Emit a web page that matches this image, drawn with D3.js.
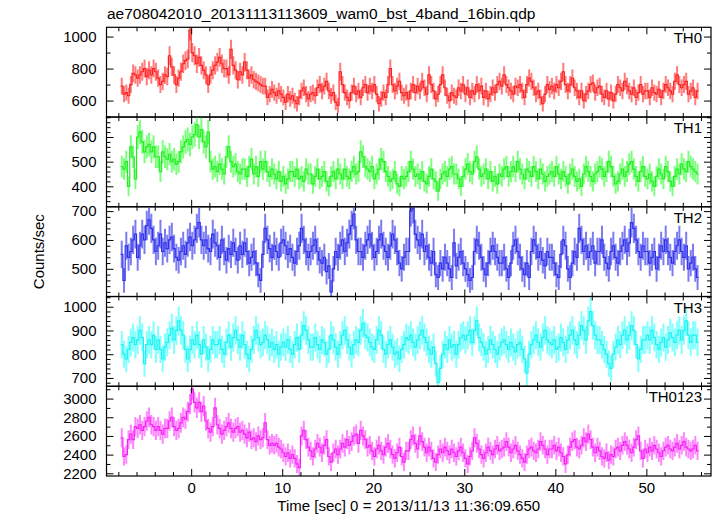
<!DOCTYPE html>
<html><head><meta charset="utf-8">
<script src="https://cdn.jsdelivr.net/npm/d3@7"></script>
<style>body{margin:0;background:#fff}svg{display:block}text{font-family:"Liberation Sans",Arial,Helvetica,sans-serif;fill:#000}</style>
</head><body><svg id="c" width="717" height="516"></svg>
<script>
const binWidth = 0.25;
const tStart = -7.75;
const title = "ae708042010_20131113113609_wam0_bst_4band_16bin.qdp";
const xTitle = "Time [sec] 0 = 2013/11/13 11:36:09.650";
const yTitle = "Counts/sec";
const bandNames = ["TH0", "TH1", "TH2", "TH3", "TH0123"];
const xTicks = [0, 10, 20, 30, 40, 50];

const th0 = [
690,640,650,630, 700,770,760,740, 760,780,800,750, 790,760,800,780, 740,700,720,760, 750,
880,810,760,700, 740,780,830,850, 860,1040,900,880, 830,870,820,790, 760,700,760,790, 820,
840,870,830,800, 800,760,920,820, 790,730,780,760, 840,790,740,760, 730,720,710,700, 690,
690,620,640,670, 650,630,660,640, 620,590,640,610, 630,600,580,620, 660,680,640,610, 640,
650,630,680,700, 660,690,720,660, 630,650,590,570, 780,700,650,620, 600,650,690,640, 660,
620,680,700,650, 690,660,700,640, 580,610,650,620, 700,800,700,660, 690,720,650,630, 650,
610,660,700,650, 690,660,720,680, 640,760,700,660, 610,640,700,760, 680,630,600,650, 630,
620,680,660,700, 640,680,620,660, 640,700,660,690, 620,660,610,640, 680,650,700,720, 690,
760,700,680,660, 640,690,680,700, 660,620,700,740, 720,680,640,660, 620,580,640,700, 670,
690,660,700,680, 720,780,700,660, 700,740,680,660, 620,660,600,640, 660,700,710,650, 680,
690,640,620,660, 610,650,600,640, 700,680,660,720, 690,660,640,680, 620,650,700,640, 660,
660,620,680,650, 640,670,620,660, 700,680,660,640, 720,760,700,680, 700,720,640,660, 680,
620,660];

const th1 = [
480,470,500,400, 560,520,430,600, 620,580,540,560, 570,540,560,520, 520,460,540,520, 510,
530,500,510,490, 500,540,560,580, 590,570,600,610, 650,600,630,580, 560,620,500,470, 480,
460,490,470,450, 520,560,500,480, 490,460,450,470, 470,440,480,510, 450,480,440,500, 470,
500,460,440,470, 450,430,460,420, 440,410,430,460, 460,440,470,430, 440,420,470,450, 450,
410,440,470,430, 440,460,420,400, 440,460,430,470, 450,430,470,440, 430,460,480,450, 460,
540,520,480,470, 460,480,430,450, 470,510,500,460, 440,420,430,460, 410,400,440,430, 440,
460,500,470,440, 450,430,460,420, 410,440,470,430, 420,380,430,450, 460,440,470,480, 450,
450,430,400,440, 470,490,460,450, 500,520,470,440, 450,470,430,460, 420,440,410,450, 440,
470,480,440,460, 480,460,500,470, 450,430,470,460, 440,480,460,430, 470,450,420,440, 450,
460,440,480,450, 430,460,440,410, 450,470,440,420, 430,400,450,480, 460,440,420,450, 460,
480,470,440,460, 500,480,440,410, 420,450,470,440, 460,490,500,470, 440,420,460,480, 440,
430,450,420,400, 440,470,450,430, 480,460,420,400, 440,470,450,490, 470,460,500,480, 470,
460,450];

const th2 = [
550,460,580,540, 560,600,620,540, 580,620,600,650, 670,640,600,560, 580,620,560,590, 570,
600,610,570,540, 530,560,580,550, 590,610,580,600, 640,660,600,580, 600,570,560,620, 590,
580,540,600,560, 530,570,550,590, 560,530,580,550, 590,560,520,540, 560,520,480,460, 550,
640,600,570,540, 580,560,540,590, 600,580,550,570, 540,520,560,580, 640,600,560,540, 560,
580,600,560,530, 520,540,490,510, 420,500,560,540, 580,600,560,590, 620,650,690,600, 560,
560,540,580,600, 620,580,540,560, 600,620,580,560, 540,580,620,600, 560,520,500,540, 560,
560,700,710,620, 600,580,620,560, 580,540,520,560, 480,470,520,500, 540,520,500,470, 590,
510,540,560,520, 500,480,460,470, 560,600,580,540, 500,480,520,560, 580,560,540,520, 520,
540,500,470,520, 580,600,560,540, 500,480,520,470, 560,600,580,540, 560,530,510,560, 540,
540,520,480,470, 550,600,580,500, 470,520,560,540, 640,600,560,580, 540,560,580,520, 560,
560,600,540,520, 500,560,580,540, 520,560,580,600, 560,590,660,640, 600,560,540,580, 560,
560,520,540,560, 500,540,580,560, 600,560,540,520, 560,580,600,560, 540,580,500,520, 540,
500,470];

const th3 = [
840,800,780,820, 850,870,840,860, 900,870,760,840, 860,840,880,820, 860,820,780,830, 850,
880,910,860,900, 940,900,880,820, 780,820,860,840, 880,840,800,860, 830,780,820,860, 840,
840,860,820,800, 850,880,830,870, 900,860,830,880, 840,800,780,820, 860,900,870,840, 850,
880,860,830,850, 820,840,800,830, 850,830,860,820, 800,840,870,820, 880,920,900,860, 830,
830,870,840,820, 860,850,800,820, 880,860,830,800, 840,880,900,860, 830,800,840,860, 850,
900,930,880,870, 850,830,820,860, 900,880,820,800, 840,860,830,800, 810,780,820,840, 870,
860,880,850,830, 860,880,900,870, 850,820,800,830, 760,680,740,800, 840,820,860,830, 840,
800,840,870,880, 860,880,900,850, 900,940,870,850, 830,800,820,860, 840,820,800,830, 850,
860,840,820,850, 830,810,840,850, 820,780,720,800, 840,860,880,850, 830,870,900,860, 850,
840,860,820,830, 870,850,820,860, 880,900,860,840, 880,920,900,860, 940,980,920,880, 860,
860,840,820,800, 760,740,800,830, 860,840,880,900, 860,880,920,900, 840,780,820,860, 860,
880,860,900,870, 840,820,850,870, 830,860,890,870, 850,880,900,860, 900,940,880,850, 880,
880,850];

const th0123 = [
2580,2380,2400,2560, 2620,2560,2700,2680, 2720,2660,2700,2760, 2800,2720,2700,2660, 2700,2660,2620,2680, 2680,
2760,2800,2700,2660, 2680,2740,2800,2780, 2860,2940,3100,2960, 2900,2960,2860,2920, 2760,2680,2640,2700, 2900,
2720,2680,2620,2660, 2700,2740,2680,2640, 2680,2700,2640,2660, 2620,2580,2640,2560, 2580,2540,2600,2560, 2580,
2740,2560,2500,2520, 2500,2520,2480,2460, 2420,2380,2420,2360, 2400,2360,2300,2260, 2600,2660,2560,2480, 2440,
2380,2460,2520,2480, 2420,2500,2560,2380, 2320,2420,2460,2400, 2460,2520,2480,2560, 2500,2540,2600,2620, 2520,
2660,2600,2560,2480, 2500,2440,2380,2460, 2500,2440,2400,2480, 2520,2460,2400,2360, 2420,2480,2380,2320, 2440,
2440,2560,2600,2520, 2460,2600,2540,2480, 2420,2480,2440,2360, 2320,2400,2460,2420, 2480,2440,2400,2460, 2420,
2380,2440,2480,2420, 2360,2300,2380,2440, 2580,2520,2460,2400, 2360,2420,2480,2440, 2400,2460,2500,2440, 2460,
2480,2540,2480,2420, 2460,2500,2440,2400, 2360,2320,2400,2460, 2480,2440,2420,2460, 2540,2500,2460,2400, 2460,
2460,2500,2440,2480, 2420,2380,2300,2400, 2480,2540,2560,2480, 2460,2500,2580,2540, 2620,2560,2480,2420, 2480,
2440,2380,2360,2420, 2340,2400,2380,2460, 2480,2440,2500,2540, 2500,2460,2420,2480, 2560,2600,2440,2360, 2460,
2420,2480,2440,2500, 2460,2420,2380,2440, 2480,2500,2460,2440, 2480,2520,2460,2500, 2540,2480,2460,2440, 2460,
2500,2440];

const seriesList = [th0, th1, th2, th3, th0123];
const yDomains = [[497, 1058], [317, 681], [404, 715], [665, 1043], [2171, 3132]];
const yMajor = [200, 100, 100, 100, 200];
const yMinor = [100, 20, 20, 20, 100];
const darkColors = ["#ff2222", "#22ee22", "#2f2fee", "#1ff2f2", "#f522f5"];
const lightColors = ["#ff7a7a", "#7cff7c", "#7c7cf2", "#80ffff", "#ff85ff"];

const PL = 106.5, PR = 711, PT = 27.3, PB = 476;
const ph = (PB - PT) / 5;
const svg = d3.select("#c");

const x = d3.scaleLinear().domain([-9.3, 57.1]).range([PL, PR]);
const xMinorVals = d3.range(-8, 57, 2).filter(v => v % 10 !== 0);

const defs = svg.append("defs");

seriesList.forEach((vals, p) => {
  const y0 = PT + p * ph, y1 = y0 + ph;
  const y = d3.scaleLinear().domain(yDomains[p]).range([y1, y0]);
  const data = vals.map((v, i) => ({t: tStart + (i + 0.5) * binWidth, v: v, e: Math.sqrt(v / binWidth)}));

  const cid = "clip" + p;
  defs.append("clipPath").attr("id", cid).append("rect")
    .attr("x", PL).attr("y", y0).attr("width", PR - PL).attr("height", ph);
  const g = svg.append("g").attr("clip-path", `url(#${cid})`);

  g.selectAll("line.err").data(data).enter().append("line")
    .attr("x1", d => x(d.t)).attr("x2", d => x(d.t))
    .attr("y1", d => y(d.v - d.e)).attr("y2", d => y(d.v + d.e))
    .attr("stroke", lightColors[p]).attr("stroke-width", 2);

  const line = d3.line().x(d => x(d.t)).y(d => y(d.v)).curve(d3.curveStep);
  g.append("path").datum(data).attr("d", line)
    .attr("fill", "none").attr("stroke", darkColors[p]).attr("stroke-width", 1.2);
  g.append("line").attr("x1", x(tStart)).attr("x2", x(data[0].t)).attr("y1", y(data[0].v)).attr("y2", y(data[0].v))
    .attr("stroke", darkColors[p]).attr("stroke-width", 1.2);
  const last = data[data.length - 1];
  g.append("line").attr("x1", x(last.t)).attr("x2", x(last.t + binWidth / 2)).attr("y1", y(last.v)).attr("y2", y(last.v))
    .attr("stroke", darkColors[p]).attr("stroke-width", 1.2);

  const [lo, hi] = yDomains[p];
  const majors = d3.range(Math.ceil(lo / yMajor[p]) * yMajor[p], hi + 1e-9, yMajor[p]);
  const minors = d3.range(Math.ceil(lo / yMinor[p]) * yMinor[p], hi + 1e-9, yMinor[p]).filter(v => v % yMajor[p] !== 0);

  const ax = svg.append("g").attr("class", "axis");
  ax.append("g").attr("transform", `translate(${PL},0)`)
    .call(d3.axisLeft(y).tickValues(majors).tickSizeInner(-7).tickSizeOuter(0).tickPadding(10).tickFormat(d3.format("d")));
  ax.append("g").attr("transform", `translate(${PL},0)`)
    .call(d3.axisLeft(y).tickValues(minors).tickSizeInner(-4).tickSizeOuter(0).tickFormat(""));
  ax.append("g").attr("transform", `translate(${PR},0)`)
    .call(d3.axisRight(y).tickValues(majors).tickSizeInner(-7).tickSizeOuter(0).tickFormat(""));
  ax.append("g").attr("transform", `translate(${PR},0)`)
    .call(d3.axisRight(y).tickValues(minors).tickSizeInner(-4).tickSizeOuter(0).tickFormat(""));

  ax.append("g").attr("transform", `translate(0,${y0})`)
    .call(d3.axisTop(x).tickValues(xTicks).tickSizeInner(-7).tickSizeOuter(0).tickFormat(""));
  ax.append("g").attr("transform", `translate(0,${y0})`)
    .call(d3.axisTop(x).tickValues(xMinorVals).tickSizeInner(-4).tickSizeOuter(0).tickFormat(""));
  ax.append("g").attr("transform", `translate(0,${y1})`)
    .call(d3.axisBottom(x).tickValues(xTicks).tickSizeInner(-7).tickSizeOuter(0).tickPadding(6)
      .tickFormat(p === 4 ? d3.format("d") : ""));
  ax.append("g").attr("transform", `translate(0,${y1})`)
    .call(d3.axisBottom(x).tickValues(xMinorVals).tickSizeInner(-4).tickSizeOuter(0).tickFormat(""));

  ax.selectAll(".domain").remove();
  ax.selectAll(".tick line").attr("stroke", "#000").attr("stroke-width", 1);
  ax.selectAll("text").attr("font-size", 15).attr("fill", "#000")
    .style("font-family", '"Liberation Sans", Arial, sans-serif');

  svg.append("rect").attr("x", PL).attr("y", y0).attr("width", PR - PL).attr("height", ph)
    .attr("fill", "none").attr("stroke", "#000").attr("stroke-width", 1.2);

  svg.append("text").attr("x", 702).attr("y", y0 + 16).attr("text-anchor", "end")
    .attr("font-size", 15).text(bandNames[p]);
});

svg.append("text").attr("x", 107).attr("y", 19).attr("font-size", 15.5).text(title);
svg.append("text").attr("x", (PL + PR) / 2).attr("y", 511).attr("text-anchor", "middle")
  .attr("font-size", 15).text(xTitle);
svg.append("text").attr("transform", `translate(44,${(PT + PB) / 2}) rotate(-90)`)
  .attr("text-anchor", "middle").attr("font-size", 15).text(yTitle);
</script></body></html>
